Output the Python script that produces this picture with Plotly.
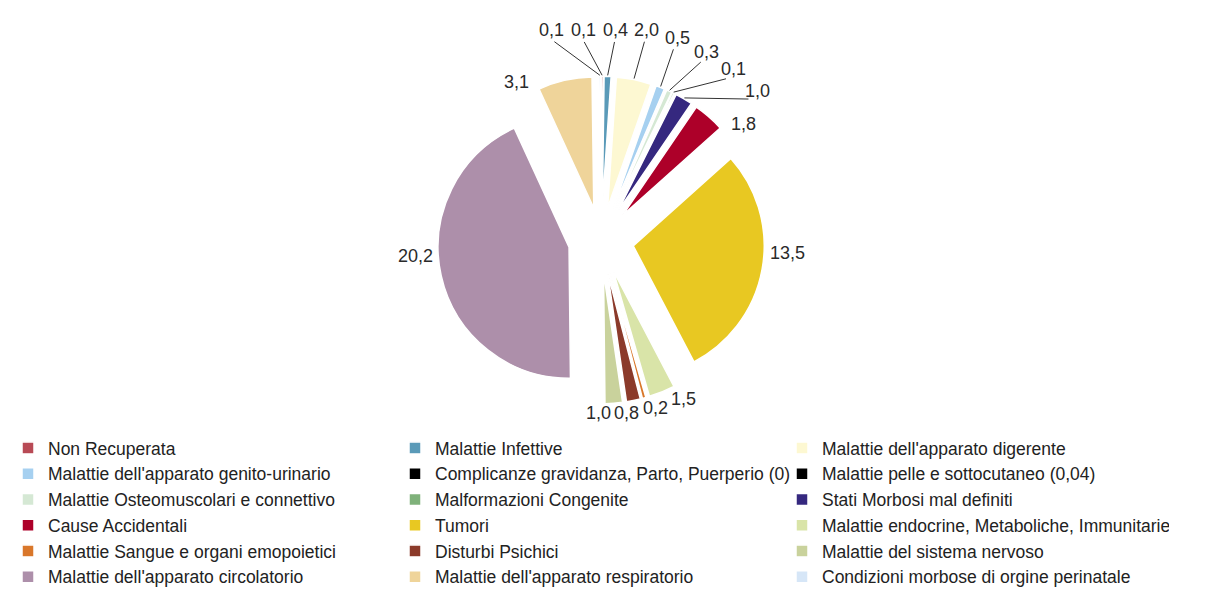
import math
import plotly.graph_objects as go

# cause of death categories (legend order = slice order, clockwise from 12 o'clock)
categories = [
    "Non Recuperata",
    "Malattie Infettive",
    "Malattie dell'apparato digerente",
    "Malattie dell'apparato genito-urinario",
    "Complicanze gravidanza, Parto, Puerperio (0)",
    "Malattie pelle e sottocutaneo (0,04)",
    "Malattie Osteomuscolari e connettivo",
    "Malformazioni Congenite",
    "Stati Morbosi mal definiti",
    "Cause Accidentali",
    "Tumori",
    "Malattie endocrine, Metaboliche, Immunitarie",
    "Malattie Sangue e organi emopoietici",
    "Disturbi Psichici",
    "Malattie del sistema nervoso",
    "Malattie dell'apparato circolatorio",
    "Malattie dell'apparato respiratorio",
    "Condizioni morbose di orgine perinatale",
]
values = [0.1, 0.4, 2.0, 0.5, 0.0, 0.04, 0.3, 0.1, 1.0, 1.8,
          13.5, 1.5, 0.2, 0.8, 1.0, 20.2, 3.1, 0.1]
colors = ["#b84a55", "#5a9ab8", "#fdf8d2", "#a6d0f0", "#000000", "#000000",
          "#d5e8d4", "#7fb17a", "#35287f", "#ad0029", "#e8c822", "#d9e4a8",
          "#d9772a", "#8b3a2a", "#c9d29c", "#ad8faa", "#efd49a", "#d6e6f7"]

W, H = 1206, 592
CX, CY = 593, 232      # pie centre in pixels
R = 131                # pie radius in pixels
PULL = 0.25
R_OUT = R * (1 + PULL)

# domain chosen so plotly's radius = min(rx, ry) / (1 + pull) = R
dom_x = [(CX - R_OUT) / W, (CX + R_OUT) / W]
dom_y = [1 - (CY + R_OUT) / H, 1 - (CY - R_OUT) / H]


def fmt(v):
    return ("%.1f" % v).replace(".", ",")


def to_px(r, ang):
    a = math.radians(ang)
    return CX + r * math.sin(a), CY - r * math.cos(a)


def px_paper(px, py):
    return px / W, 1 - py / H


# mid angle of each slice, clockwise from 12 o'clock
total = sum(values)
mids = []
cum = 0
for v in values:
    mids.append((cum + v / 2) / total * 360)
    cum += v

labelled = [i for i, v in enumerate(values) if v >= 0.05]
far = [i for i in labelled if values[i] < 2.5 and (mids[i] < 35 or mids[i] > 340)]
near = [i for i in labelled if i not in far]


def spread(idx, angles, gap):
    order = sorted(idx, key=lambda i: angles[i])
    a = [angles[i] for i in order]
    for _ in range(300):
        for k in range(len(a) - 1):
            d = a[k + 1] - a[k]
            if d < gap:
                s = (gap - d) / 2
                a[k] -= s
                a[k + 1] += s
    return dict(zip(order, a))


far_ang = spread(far, {i: (mids[i] - 360 if mids[i] > 180 else mids[i]) for i in far}, 8.5)
near_ang = spread(near, {i: mids[i] for i in near}, 9.5)

# larger slices: labels drawn a bit towards the horizontal, like the original
for i in near:
    if values[i] >= 1.8:
        side = 90 if near_ang[i] < 180 else 270
        k = 0.4 if values[i] > 10 else 0.8
        near_ang[i] = side + (near_ang[i] - side) * k

annotations = []
shapes = []
for i in near:
    a = near_ang[i]
    r = R_OUT + 9 + 14 * abs(math.sin(math.radians(a)))
    x, y = px_paper(*to_px(r, a))
    annotations.append(dict(x=x, y=y, xref="paper", yref="paper", text=fmt(values[i]),
                            showarrow=False, xanchor="center", yanchor="middle"))
for i in far:
    a = far_ang[i] + 2
    lx, ly = to_px(216, a)
    ly = max(ly, 22)          # keep the top row of labels level
    x, y = px_paper(lx, ly)
    annotations.append(dict(x=x, y=y, xref="paper", yref="paper", text=fmt(values[i]),
                            showarrow=False, xanchor="center", yanchor="middle"))
    x0, y0 = px_paper(*to_px(R_OUT + 1, mids[i]))
    # end of the leader line just below/beside the label
    ex = lx - 12 * math.sin(math.radians(a))
    ey = ly + 12 * math.cos(math.radians(a))
    x1, y1 = px_paper(ex, ey)
    shapes.append(dict(type="line", xref="paper", yref="paper", x0=x0, y0=y0, x1=x1, y1=y1,
                       line=dict(color="#333333", width=1)))

fig = go.Figure()
fig.add_trace(go.Pie(
    labels=categories,
    values=values,
    textinfo="none",
    marker=dict(colors=colors, line=dict(color="white", width=1.5)),
    pull=[PULL] * len(values),
    sort=False,
    direction="clockwise",
    rotation=0,
    domain=dict(x=dom_x, y=dom_y),
    showlegend=True,
    hoverinfo="label+value",
))

fig.update_layout(
    width=W, height=H,
    margin=dict(l=0, r=0, t=0, b=0),
    paper_bgcolor="white",
    font=dict(family="Liberation Sans, Arial, sans-serif", size=18, color="#2a2a2a"),
    annotations=annotations,
    shapes=shapes,
    legend=dict(
        orientation="h",
        x=0, xanchor="left",
        y=1 - 422 / H, yanchor="top",
        entrywidth=342,
        traceorder="normal",
        font=dict(size=17.5, color="#222"),
        itemclick=False,
    ),
)

fig.write_html("out.html")
